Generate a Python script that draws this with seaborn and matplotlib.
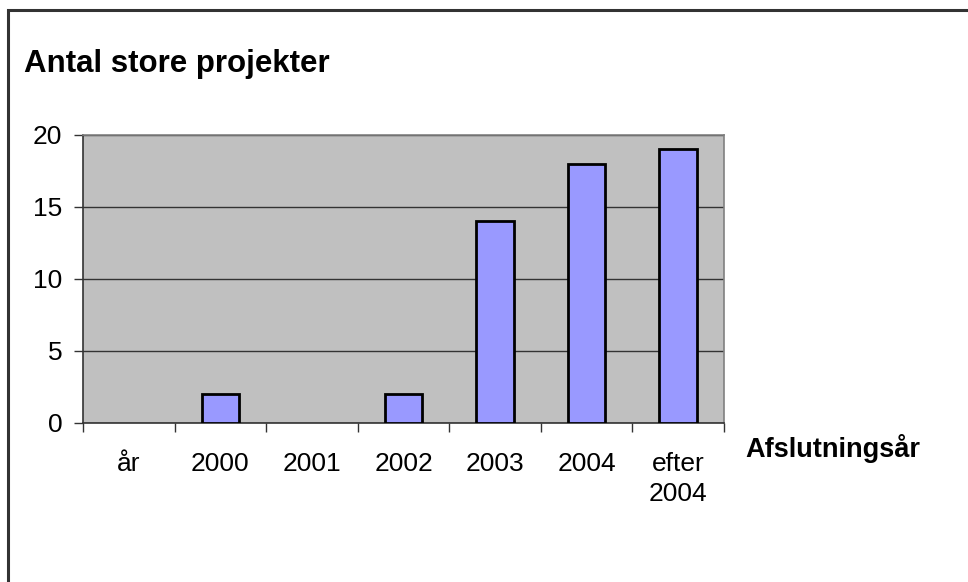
import numpy as np
import pandas as pd
import matplotlib
matplotlib.use("Agg")
import matplotlib.pyplot as plt
import seaborn as sns

# data
categories = ["år", "2000", "2001", "2002", "2003", "2004", "efter\n2004"]
counts = [0, 2, 0, 2, 14, 18, 19]
y_ticks = [0, 5, 10, 15, 20]

sns.set_theme(style="white")
plt.rcParams["font.family"] = ["Liberation Sans", "DejaVu Sans"]
plt.rcParams["text.color"] = "black"

W, H = 968, 582
fig = plt.figure(figsize=(W / 100, H / 100), dpi=100)
fig.patch.set_facecolor("white")

# outer frame (only top/left edges visible in the reference)
fig.add_artist(plt.Rectangle((8 / W, -0.1), 1.2, 1 - 9.5 / H + 0.1,
                             transform=fig.transFigure, fill=False,
                             edgecolor="#333333", linewidth=2.2))

# plot area in pixels: x 83..724, y 135..423
ax = fig.add_axes([83 / W, 1 - 423 / H, (724 - 83) / W, (423 - 135) / H])
ax.set_facecolor("#C0C0C0")

df = pd.DataFrame({"cat": categories, "n": counts})
sns.barplot(data=df, x="cat", y="n", ax=ax, color="#9999FF",
            width=0.41, edgecolor="black", linewidth=2, saturation=1,
            zorder=3)
for p in ax.patches:
    p.set_facecolor("#9999FF")
    if p.get_height() == 0:
        p.set_visible(False)

ax.set_ylim(0, 20)
ax.set_xlim(-0.5, len(categories) - 0.5)
ax.set_yticks(y_ticks)
ax.yaxis.grid(True, color="#333333", linewidth=1, zorder=1)
ax.set_axisbelow(True)

# ticks between categories
ax.set_xticks(np.arange(-0.5, len(categories)), minor=True)
ax.tick_params(axis="x", which="minor", bottom=True, length=6.5, width=1,
               color="#333333", direction="out")
ax.tick_params(axis="x", which="major", bottom=True, length=0, pad=21,
               labelsize=19, labelcolor="black")
ax.tick_params(axis="y", which="major", left=True, length=6.5, width=1,
               color="#333333", direction="out", labelsize=19, pad=8.5,
               labelcolor="black")
ax.set_xticklabels(categories, linespacing=1.3)

for side in ["left", "bottom"]:
    ax.spines[side].set_color("#333333")
    ax.spines[side].set_linewidth(1.2)
for side in ["top", "right"]:
    ax.spines[side].set_color("#808080")
    ax.spines[side].set_linewidth(1.2)

ax.set_xlabel("")
ax.set_ylabel("")

fig.text(24 / W, 1 - 72 / H, "Antal store projekter", fontsize=22.5,
         fontweight="bold", ha="left", va="baseline", color="black")
fig.text(745 / W, 1 - 457 / H, "Afslutningsår", fontsize=19.5,
         fontweight="bold", ha="left", va="baseline", color="black")

fig.savefig("out.png", dpi=100)
